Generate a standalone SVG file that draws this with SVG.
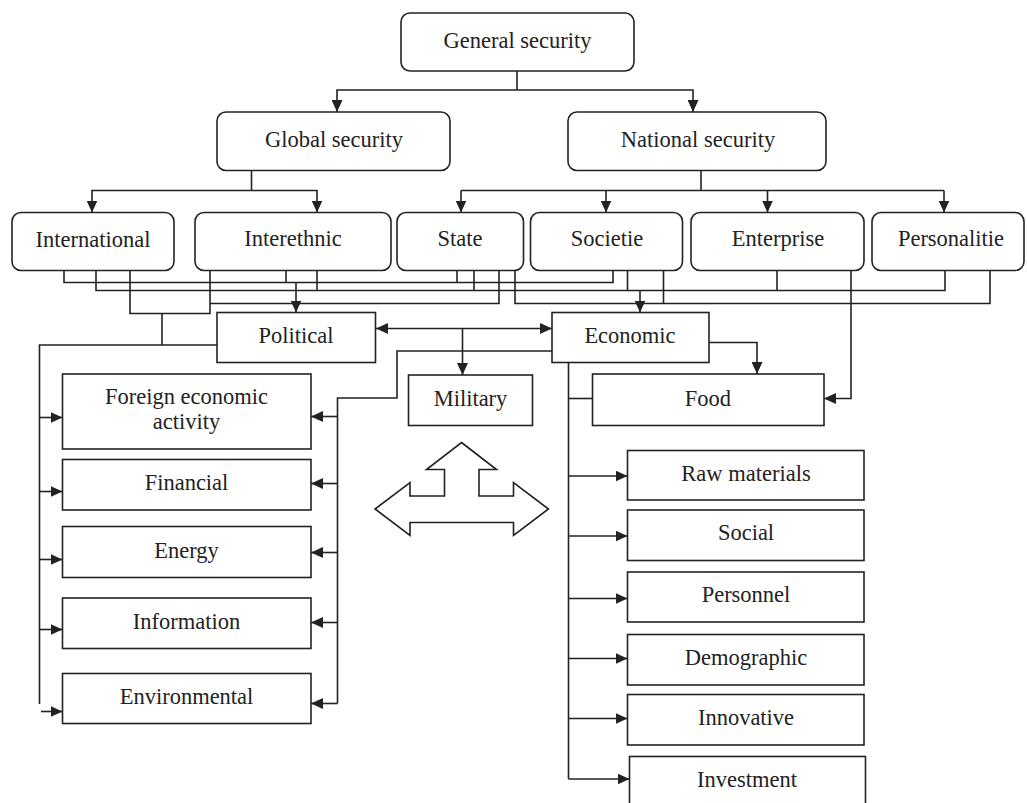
<svg xmlns="http://www.w3.org/2000/svg" width="1027" height="803" viewBox="0 0 1027 803">
  <style>
    .box { fill: #fff; stroke: #222; stroke-width: 1.6; }
    .lbl { font-family: "Liberation Serif", "Times New Roman", serif; font-size: 22.5px; fill: #222; text-anchor: middle; }
    .wire { fill: none; stroke: #222; stroke-width: 1.6; }
    .arr { marker-end: url(#head); }
    .dbl { marker-start: url(#tail); marker-end: url(#head); }
  </style>
  <defs>
    <marker id="head" viewBox="0 0 12 11" refX="12" refY="5.5" markerWidth="12" markerHeight="11" markerUnits="userSpaceOnUse" orient="auto">
      <path d="M0,0 L12,5.5 L0,11 z" fill="#222"/>
    </marker>
    <marker id="tail" viewBox="0 0 12 11" refX="0" refY="5.5" markerWidth="12" markerHeight="11" markerUnits="userSpaceOnUse" orient="auto">
      <path d="M12,0 L0,5.5 L12,11 z" fill="#222"/>
    </marker>
  </defs>
  <rect width="1027" height="803" fill="#fff"/>

  <!-- connectors -->
  <g id="connectors">
    <!-- general -> global / national -->
    <path class="wire" d="M517,71 V90"/>
    <path class="wire arr" d="M517,90 H337 V112"/>
    <path class="wire arr" d="M517,90 H693 V112"/>
    <!-- global -> international / interethnic -->
    <path class="wire" d="M251.5,170.5 V190.5"/>
    <path class="wire arr" d="M251.5,190.5 H92 V212.5"/>
    <path class="wire arr" d="M251.5,190.5 H317 V212.5"/>
    <!-- national -> state / societie / enterprise / personalitie -->
    <path class="wire" d="M701,170.5 V190.5"/>
    <path class="wire" d="M461,190.5 H944"/>
    <path class="wire arr" d="M461,190.5 V212.5"/>
    <path class="wire arr" d="M606,190.5 V212.5"/>
    <path class="wire arr" d="M767.5,190.5 V212.5"/>
    <path class="wire arr" d="M944,190.5 V212.5"/>

    <!-- bus A: to Political -->
    <path class="wire" d="M64,270.5 V282.5 H613 V270.5"/>
    <path class="wire" d="M286,270.5 V282.5"/>
    <path class="wire" d="M457,270.5 V282.5"/>
    <path class="wire arr" d="M296,282.5 V312.5"/>
    <!-- bus B: to Economic -->
    <path class="wire" d="M96,270.5 V290.5 H945 V270.5"/>
    <path class="wire" d="M317,270.5 V290.5"/>
    <path class="wire" d="M474,270.5 V290.5"/>
    <path class="wire" d="M627.5,270.5 V290.5"/>
    <path class="wire" d="M777,270.5 V290.5"/>
    <path class="wire arr" d="M640,290.5 V312.5"/>
    <!-- bus C right -->
    <path class="wire" d="M515,270.5 V303.5 H990 V270.5"/>
    <path class="wire" d="M663.5,270.5 V303.5"/>
    <!-- bus C left and D -->
    <path class="wire" d="M499,270.5 V303.5 H210"/>
    <path class="wire" d="M210,270.5 V313.5 H130 V270.5"/>
    <path class="wire" d="M162,313.5 V345"/>
    <!-- political left trunk -->
    <path class="wire" d="M217,345 H39.5 V704"/>
    <path class="wire arr" d="M39.5,417.5 H62.5"/>
    <path class="wire arr" d="M39.5,491.5 H62.5"/>
    <path class="wire arr" d="M39.5,559.5 H62.5"/>
    <path class="wire arr" d="M39.5,629.5 H62.5"/>
    <path class="wire arr" d="M41,711.5 H62.5"/>

    <!-- political <-> economic, to military -->
    <path class="wire dbl" d="M376,328.5 H552"/>
    <path class="wire arr" d="M462.5,328.5 V375"/>

    <!-- economic left trunk -->
    <path class="wire" d="M552,351 H397 V398 H337.5 V703.5"/>
    <path class="wire arr" d="M337.5,416.5 H311"/>
    <path class="wire arr" d="M337.5,483.5 H311"/>
    <path class="wire arr" d="M337.5,552.5 H311"/>
    <path class="wire arr" d="M337.5,622.5 H311"/>
    <path class="wire arr" d="M337.5,703.5 H311"/>

    <!-- economic -> food, enterprise -> food -->
    <path class="wire arr" d="M709,342.5 H757 V374"/>
    <path class="wire arr" d="M851,270.5 V398.5 H824"/>

    <!-- economic right trunk -->
    <path class="wire" d="M568.5,362.5 V779"/>
    <path class="wire" d="M568.5,398.5 H592.5"/>
    <path class="wire arr" d="M568.5,476 H627.5"/>
    <path class="wire arr" d="M568.5,536 H627.5"/>
    <path class="wire arr" d="M568.5,598.5 H627.5"/>
    <path class="wire arr" d="M568.5,658.5 H627.5"/>
    <path class="wire arr" d="M568.5,718.5 H627.5"/>
    <path class="wire arr" d="M568.5,779 H629.5"/>
  </g>

  <!-- hierarchy nodes -->
  <g id="general"><rect class="box" x="401" y="13" width="233" height="58" rx="9"/><text class="lbl" x="517.5" y="48">General security</text></g>
  <g id="global"><rect class="box" x="217" y="112" width="233" height="58.5" rx="9"/><text class="lbl" x="334" y="147">Global security</text></g>
  <g id="national"><rect class="box" x="568" y="112" width="258" height="58.5" rx="9"/><text class="lbl" x="698" y="147">National security</text></g>

  <g id="international"><rect class="box" x="12" y="212.5" width="162" height="58" rx="9"/><text class="lbl" x="93" y="247">International</text></g>
  <g id="interethnic"><rect class="box" x="195" y="212.5" width="196" height="58" rx="9"/><text class="lbl" x="293" y="246">Interethnic</text></g>
  <g id="state"><rect class="box" x="397" y="212.5" width="126.5" height="58" rx="9"/><text class="lbl" x="460" y="246">State</text></g>
  <g id="societie"><rect class="box" x="530.5" y="212.5" width="152" height="58" rx="9"/><text class="lbl" x="607" y="246">Societie</text></g>
  <g id="enterprise"><rect class="box" x="691" y="212.5" width="173" height="58" rx="9"/><text class="lbl" x="778" y="246">Enterprise</text></g>
  <g id="personalitie"><rect class="box" x="872" y="212.5" width="152" height="58" rx="9"/><text class="lbl" x="951" y="246">Personalitie</text></g>

  <g id="political"><rect class="box" x="217" y="312.5" width="158.5" height="50"/><text class="lbl" x="296" y="342.5">Political</text></g>
  <g id="economic"><rect class="box" x="552" y="312.5" width="157" height="50"/><text class="lbl" x="630" y="342.5">Economic</text></g>
  <g id="military"><rect class="box" x="408.5" y="375" width="124" height="50.5"/><text class="lbl" x="470.5" y="405.5">Military</text></g>
  <g id="food"><rect class="box" x="592.5" y="374" width="231.5" height="51.5"/><text class="lbl" x="708" y="405.5">Food</text></g>

  <!-- political branches -->
  <g id="foreign"><rect class="box" x="62.5" y="374" width="248.5" height="75"/><text class="lbl" x="186.5" y="403.5">Foreign economic</text><text class="lbl" x="186.5" y="428.5">activity</text></g>
  <g id="financial"><rect class="box" x="62.5" y="459.5" width="248.5" height="50.5"/><text class="lbl" x="186.5" y="490">Financial</text></g>
  <g id="energy"><rect class="box" x="62.5" y="526.5" width="248.5" height="51"/><text class="lbl" x="186.5" y="557.5">Energy</text></g>
  <g id="information"><rect class="box" x="62.5" y="598" width="248.5" height="50.5"/><text class="lbl" x="186.5" y="628.5">Information</text></g>
  <g id="environmental"><rect class="box" x="62.5" y="673.5" width="248.5" height="50"/><text class="lbl" x="186.5" y="703.5">Environmental</text></g>

  <!-- economic branches -->
  <g id="raw"><rect class="box" x="627.5" y="450.5" width="236.5" height="49.5"/><text class="lbl" x="746" y="480.5">Raw materials</text></g>
  <g id="social"><rect class="box" x="627.5" y="510" width="236.5" height="50.5"/><text class="lbl" x="746" y="540">Social</text></g>
  <g id="personnel"><rect class="box" x="627.5" y="572" width="236.5" height="50"/><text class="lbl" x="746" y="602">Personnel</text></g>
  <g id="demographic"><rect class="box" x="627.5" y="634.5" width="236.5" height="50.5"/><text class="lbl" x="746" y="665">Demographic</text></g>
  <g id="innovative"><rect class="box" x="627.5" y="694.5" width="236.5" height="50.5"/><text class="lbl" x="746" y="724.5">Innovative</text></g>
  <g id="investment"><rect class="box" x="629.5" y="756.5" width="236" height="55"/><text class="lbl" x="747" y="787">Investment</text></g>

  <!-- three-way outline arrow -->
  <g id="triple-arrow">
    <polygon class="box" points="461.5,442.5 496.5,469.5 479,469.5 479,496 513.5,496 513.5,482.5 548.5,509 513.5,535.5 513.5,522.5 410,522.5 410,535.5 375,509 410,482.5 410,496 444.5,496 444.5,469.5 426.5,469.5"/>
  </g>
</svg>
